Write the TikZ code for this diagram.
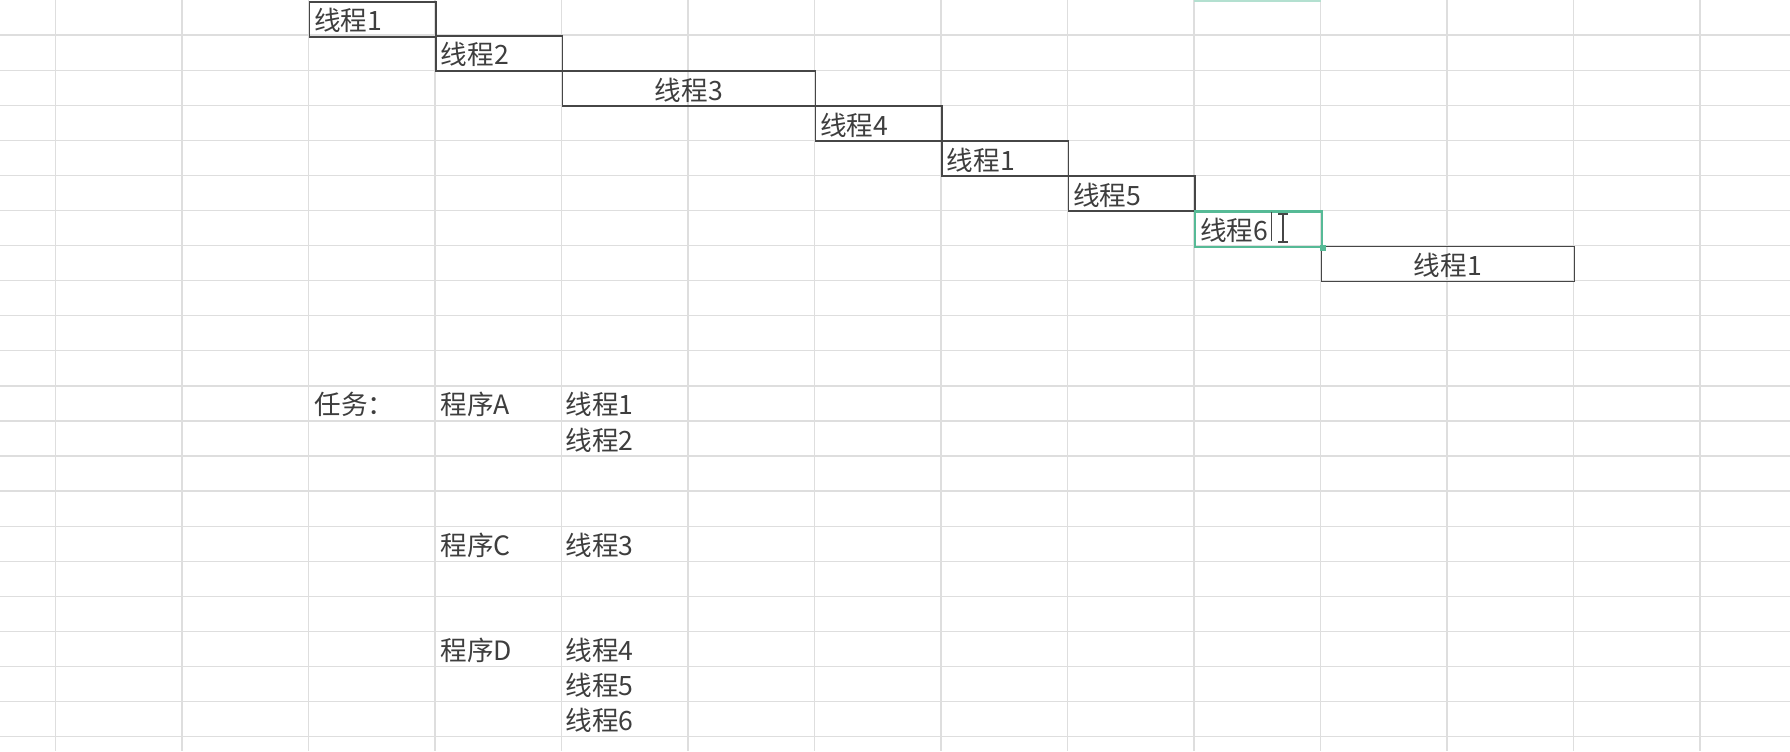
\documentclass[tikz,border=0pt]{standalone}
\usepackage{fontspec}
\usepackage{xcolor}
\usepackage{tikz}
\usetikzlibrary{positioning, calc}
\newfontfamily\cjk{Noto Sans CJK SC}
\definecolor{gridgray}{RGB}{222,222,222}
\definecolor{boxgray}{RGB}{70,70,70}
\definecolor{txtgray}{RGB}{62,62,62}
\definecolor{selgreen}{RGB}{86,186,150}
\newcommand{\cellfont}{\cjk\fontsize{13.3}{15}\selectfont}

\begin{document}
\begin{tikzpicture}[x=0.5pt, y=-0.5pt,
	cell/.style={draw=boxgray, line width=0.85pt, anchor=north west, minimum height=17.54pt, inner xsep=2.5pt, inner ysep=0pt, text height=12.5pt, text depth=1pt, font=\cellfont, text=txtgray},
	single/.style={cell, text width=58.25pt, align=left},
	double/.style={cell, text width=121.5pt, align=center},
	plain/.style={anchor=west, inner sep=0pt, text height=12.5pt, text depth=1pt, font=\cellfont, text=txtgray}]
	\fill[white] (0,0) rectangle (1790,751);
	\useasboundingbox (0,0) rectangle (1790,751);
	\foreach \i in {0,...,13}
		\draw[gridgray, line width=0.65pt] (55.5+126.5*\i,0) -- (55.5+126.5*\i,751);
	\foreach \j in {1,...,21}
		\draw[gridgray, line width=0.65pt] (0,35.08*\j) -- (1790,35.08*\j);
	\draw[selgreen!45, line width=0.8pt] (1194,1) -- (1320.5,1);

	\node[single] (w1) at (308.5,1) {线程1};
	\node[single] (w2) at (435,35.08) {线程2};
	\node[double] (w3) at (561.5,70.16) {线程3};
	\node[single] (w4) at (814.5,105.24) {线程4};
	\node[single] (w5) at (941,140.32) {线程1};
	\node[single] (w6) at (1067.5,175.4) {线程5};
	\node[single, draw=selgreen, line width=1.1pt] (w7) at (1194,210.48) {线程6};
	\node[double] (w8) at (1320.5,245.56) {线程1};
	\fill[selgreen] ($(w7.south east)+(-3,-3)$) rectangle ($(w7.south east)+(3,3)$);
	\draw[boxgray, line width=0.5pt] (1271,212) -- (1271,241);
	\draw[boxgray, line width=1pt] (1283,214) -- (1283,242)
		(1278,214) -- (1288,214) (1278,242) -- (1288,242);

	\node[plain] (task) at (314,403.4) {任务：};
	\node[plain] (pa) at (440,403.4) {程序A};
	\node[plain] (pc) at (440,543.7) {程序C};
	\node[plain] (pd) at (440,649) {程序D};
	\node[plain] (a1) at (565,403.4) {线程1};
	\node[plain] (a2) at (565,438.5) {线程2};
	\node[plain] (c3) at (565,543.7) {线程3};
	\node[plain] (d4) at (565,649) {线程4};
	\node[plain] (d5) at (565,684.1) {线程5};
	\node[plain] (d6) at (565,719.2) {线程6};
\end{tikzpicture}
\end{document}
